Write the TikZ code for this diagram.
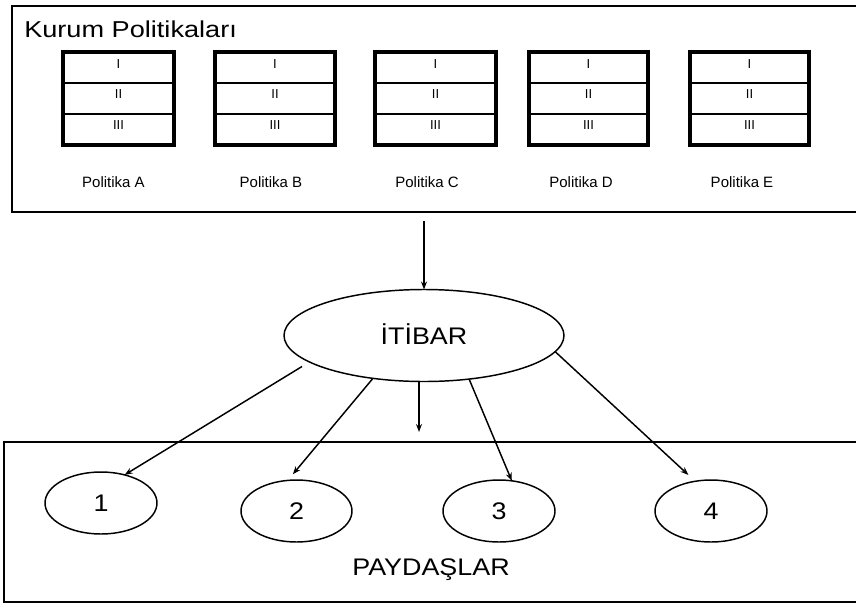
\documentclass[tikz,border=0pt]{standalone}
\usepackage{fontspec}
\setmainfont{Liberation Sans}
\newfontfamily\widefont[FakeStretch=1.12]{Liberation Sans}
\newfontfamily\titlefont[FakeStretch=1.18]{Liberation Sans}
\usetikzlibrary{shapes.geometric,arrows.meta,calc}

\begin{document}
\begin{tikzpicture}[x=0.75pt,y=-0.75pt,
  frame/.style={draw,line width=1.5pt,rectangle,inner sep=0pt,outer sep=0pt},
  polbox/.style={draw,line width=3pt,rectangle,inner sep=0pt,outer sep=0pt,minimum height=69.75pt},
  rowline/.style={line width=1.1pt},
  rowlabel/.style={font=\fontsize{9.75}{10}\selectfont,inner sep=0pt},
  pollabel/.style={font=\fontsize{11.25}{12}\selectfont,inner sep=0pt},
  oval/.style={draw,ellipse,line width=1.1pt,inner sep=0pt,outer sep=0pt,
    text height=12.9pt,text depth=0pt},
  bigtext/.style={font=\widefont\fontsize{18}{20}\selectfont},
  arr/.style={line width=1.1pt,-{Stealth[length=6pt,width=4.5pt]}},
]
\useasboundingbox (0,0) rectangle (856,604);

% upper frame: institutional policies
\node[frame,minimum width=636pt,minimum height=154.5pt] (kurum) at (436,109) {};
\node[anchor=west,inner sep=0pt,font=\titlefont\fontsize{17.25}{19}\selectfont]
  (title) at (24,29.5) {Kurum Politikaları};

% the five policy tables
\foreach \n/\cx/\w/\lx/\lab in {A/118.5/83.25/113.5/Politika A,
                                 B/275/90/271/Politika B,
                                 C/435.5/90.75/427/Politika C,
                                 D/588.5/89.25/581/Politika D,
                                 E/749.5/89.25/742/Politika E}{
  \node[polbox,minimum width=\w pt] (p\n) at (\cx,98.5) {};
  \draw[rowline] ($(p\n.north west)!1/3!(p\n.south west)$) -- ($(p\n.north east)!1/3!(p\n.south east)$);
  \draw[rowline] ($(p\n.north west)!2/3!(p\n.south west)$) -- ($(p\n.north east)!2/3!(p\n.south east)$);
  \node[rowlabel] (p\n-1) at ($(p\n.north)!0.13!(p\n.south)$) {I};
  \node[rowlabel] (p\n-2) at ($(p\n.north)!0.45!(p\n.south)$) {II};
  \node[rowlabel] (p\n-3) at ($(p\n.north)!0.79!(p\n.south)$) {III};
  \node[pollabel] (l\n) at (\lx,182) {\lab};
}

% reputation
\node[oval,bigtext,minimum width=210pt,minimum height=69pt] (itibar) at (424,335.5) {İTİBAR};

% lower frame: stakeholders
\node[frame,minimum width=642pt,minimum height=120pt] (paydas) at (432,522) {};
\node[bigtext,inner sep=0pt,text height=12.9pt,text depth=0pt] (paylabel) at (431,567) {PAYDAŞLAR};

\node[oval,bigtext,minimum width=84pt,minimum height=46.5pt] (s1) at (101,503) {1};
\node[oval,bigtext,minimum width=83.25pt,minimum height=46.5pt] (s2) at (296.5,511) {2};
\node[oval,bigtext,minimum width=84pt,minimum height=46.5pt] (s3) at (499,511) {3};
\node[oval,bigtext,minimum width=84pt,minimum height=46.5pt] (s4) at (711,511) {4};

% connectors
\draw[arr,shorten <=6.75pt] (itibar.north |- kurum.south) -- (itibar.north);
\coordinate (midend) at (419,432);
\draw[arr] (midend |- itibar.south) -- (midend);
\draw[arr,shorten <=6.5pt] (itibar.193) -- (s1.50);
\draw[arr,shorten >=6pt] (itibar.220) -- (s2.106);
\draw[arr] (itibar.316) -- (s3.67);
\draw[arr,shorten >=7pt] (itibar.353) -- (s4.118);
\end{tikzpicture}
\end{document}
